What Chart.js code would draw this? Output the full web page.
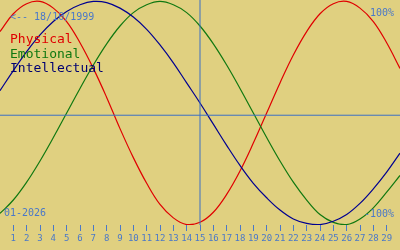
<!DOCTYPE html>
<html>
<head>
<meta charset="utf-8">
<script src="https://cdn.jsdelivr.net/npm/chart.js@4"></script>
<style>
    html, body { margin: 0; padding: 0; background: #e0d080; }
    #wrap { width: 400px; height: 250px; }
</style>
</head>
<body>
<div id="wrap"><canvas id="bioChart" width="400" height="250"></canvas></div>
<script>
// Biorhythm values (percent) read per day, day 0 .. 30
const days = [0, 1, 2, 3, 4, 5, 6, 7, 8, 9, 10, 11, 12, 13, 14, 15, 16, 17, 18, 19, 20, 21, 22, 23, 24, 25, 26, 27, 28, 29, 30];
const physical = [73, 89, 98, 100, 94, 82, 63, 40, 14, -14, -40, -63, -82, -94, -100, -98, -89, -73, -52, -27, 0, 27, 52, 73, 89, 98, 100, 94, 82, 63, 40];
const emotional = [-90, -78, -62, -43, -22, 0, 22, 43, 62, 78, 90, 97, 100, 97, 90, 78, 62, 43, 22, 0, -22, -43, -62, -78, -91, -98, -100, -95, -85, -71, -56];
const intellectual = [20, 38, 55, 70, 82, 91, 97, 100, 99, 94, 86, 75, 61, 45, 27, 9, -10, -29, -47, -63, -76, -87, -95, -99, -100, -97, -91, -81, -68, -53, -36];

const seriesNames = ['Physical', 'Emotional', 'Intellectual'];
const todayDay = 15;     // vertical marker
const zeroLevel = -2;    // horizontal reference line
const birthText = '<-- 18/10/1999';
const monthText = '01-2026';
const topLabel = '100%';
const bottomLabel = '-100%';

const BG = '#e0d080';
const TEXT_BLUE = '#4a78c8';
const MARK_BLUE = '#3b6fc4';

function toPoints(values) {
    return values.map((v, i) => ({ x: days[i], y: v }));
}

// fill background
const bgPlugin = {
    id: 'bg',
    beforeDraw(chart) {
        const ctx = chart.ctx;
        ctx.save();
        ctx.fillStyle = BG;
        ctx.fillRect(0, 0, chart.width, chart.height);
        ctx.restore();
    }
};

// text overlay: legend, dates, percentages
const textPlugin = {
    id: 'texts',
    afterDraw(chart) {
        const ctx = chart.ctx;
        ctx.save();
        ctx.textBaseline = 'alphabetic';

        ctx.font = '10px "DejaVu Sans Mono"';
        ctx.fillStyle = TEXT_BLUE;
        ctx.textAlign = 'left';
        ctx.fillText(birthText, 10, 20);
        ctx.fillText(monthText, 4, 216);
        ctx.textAlign = 'right';
        ctx.fillText(topLabel, 394, 16);
        ctx.fillText(bottomLabel, 394, 217);

        ctx.font = '13px "DejaVu Sans Mono"';
        ctx.textAlign = 'left';
        const legendColors = ['#e00000', '#107810', '#000070'];
        seriesNames.forEach((name, i) => {
            ctx.fillStyle = legendColors[i];
            ctx.fillText(name, 10, 43 + i * 14.5);
        });
        ctx.restore();
    }
};

const ctx = document.getElementById('bioChart');
new Chart(ctx, {
    type: 'line',
    data: {
        datasets: [
            {
                label: 'zero',
                data: [{ x: days[0], y: zeroLevel }, { x: days[days.length - 1], y: zeroLevel }],
                borderColor: MARK_BLUE,
                borderWidth: 1,
                pointRadius: 0
            },
            {
                label: 'today',
                data: [{ x: todayDay, y: -101 }, { x: todayDay, y: 102 }],
                borderColor: MARK_BLUE,
                borderWidth: 1,
                pointRadius: 0
            },
            {
                label: seriesNames[2],
                data: toPoints(intellectual),
                borderColor: '#000090',
                borderWidth: 1.2,
                pointRadius: 0,
                tension: 0.4
            },
            {
                label: seriesNames[1],
                data: toPoints(emotional),
                borderColor: '#107810',
                borderWidth: 1.2,
                pointRadius: 0,
                tension: 0.4
            },
            {
                label: seriesNames[0],
                data: toPoints(physical),
                borderColor: '#e00000',
                borderWidth: 1.2,
                pointRadius: 0,
                tension: 0.4
            }
        ]
    },
    options: {
        responsive: false,
        animation: false,
        layout: { padding: 0 },
        plugins: {
            legend: { display: false },
            tooltip: { enabled: false }
        },
        scales: {
            x: {
                type: 'linear',
                min: 0,
                max: 30,
                offset: false,
                border: { display: false },
                grid: {
                    drawOnChartArea: false,
                    color: TEXT_BLUE,
                    tickLength: 6
                },
                ticks: {
                    stepSize: 1,
                    autoSkip: false,
                    maxRotation: 0,
                    color: TEXT_BLUE,
                    padding: 2,
                    font: { family: 'DejaVu Sans Mono', size: 9 }
                },
                afterBuildTicks(scale) {
                    scale.ticks = scale.ticks.filter(t => t.value >= 1 && t.value <= 29);
                },
                afterFit(scale) {
                    scale.height = 25;
                }
            },
            y: {
                display: false,
                min: -100.4,
                max: 101.3
            }
        }
    },
    plugins: [bgPlugin, textPlugin]
});
</script>
</body>
</html>
